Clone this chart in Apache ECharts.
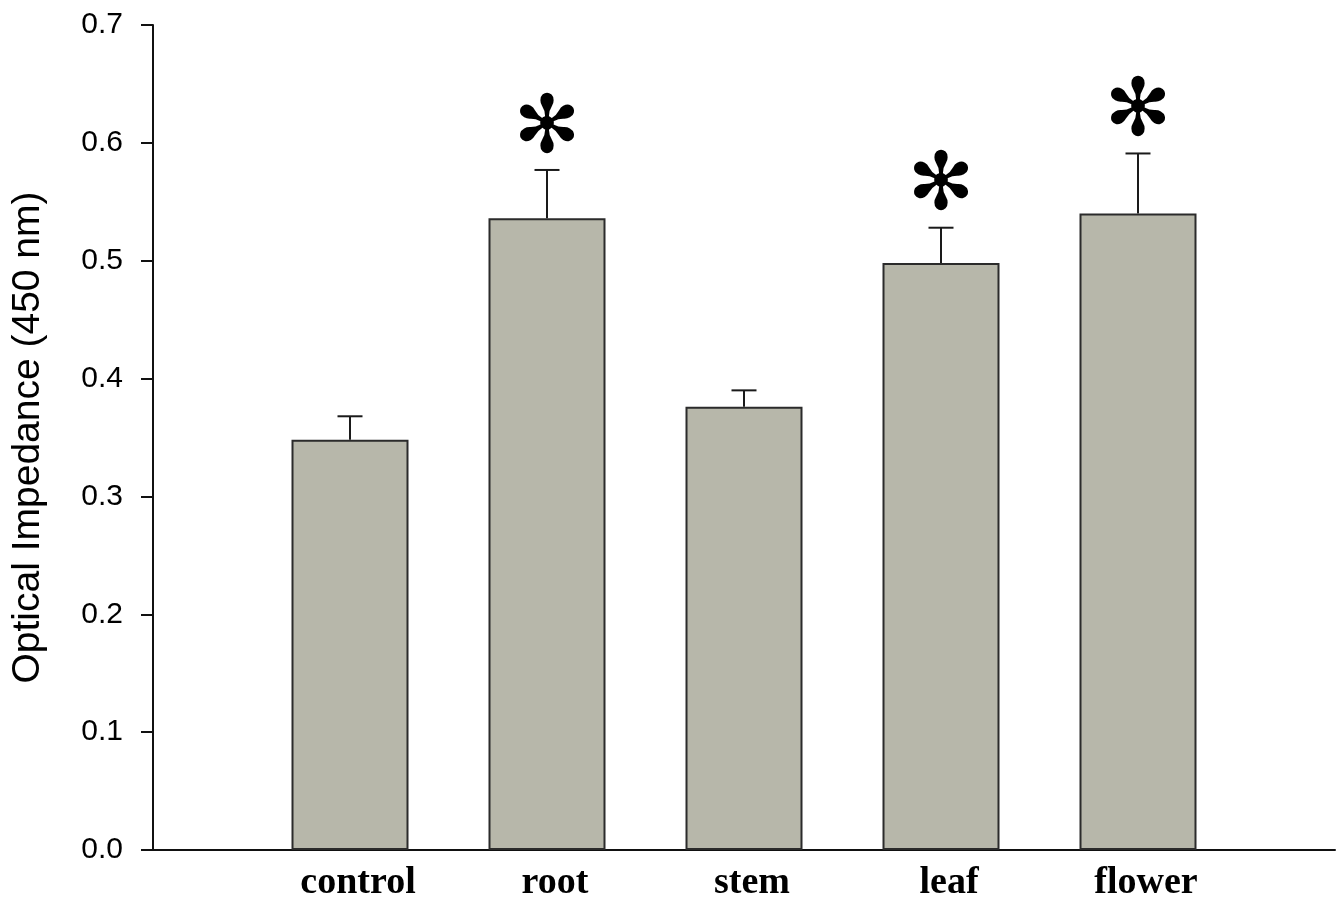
<!DOCTYPE html>
<html>
<head>
<meta charset="utf-8">
<style>
  html, body { margin: 0; padding: 0; background: #fff; }
  #chart { width: 1342px; height: 902px; }
</style>
<script src="https://cdn.jsdelivr.net/npm/echarts@6/dist/echarts.min.js"></script>
</head>
<body>
<div id="chart"></div>
<script>
// Tissue extracts vs. control, absorbance at 450 nm (mean ± SE)
const categories = ['control', 'root', 'stem', 'leaf', 'flower'];
const means = [0.348, 0.536, 0.376, 0.498, 0.540];
const errors = [0.020, 0.041, 0.014, 0.030, 0.051];
// significance markers (1 = significantly different from control)
const significant = [0, 1, 0, 1, 1];
const yTicks = [0, 0.1, 0.2, 0.3, 0.4, 0.5, 0.6, 0.7];

const chart = echarts.init(document.getElementById('chart'), null, { renderer: 'canvas' });

const barData = categories.map((c, i) => [i + 1, means[i]]);
const errData = categories.map((c, i) => [i + 1, means[i], errors[i], significant[i]]);

const option = {
  animation: false,
  backgroundColor: '#ffffff',
  grid: { left: 153, right: 7, top: 25, bottom: 49, containLabel: false },
  xAxis: {
    type: 'value',
    min: 0,
    max: 6,
    interval: 1,
    axisLine: { show: true, onZero: false, lineStyle: { color: '#111', width: 2 } },
    axisTick: { show: false },
    splitLine: { show: false },
    axisLabel: {
      margin: 14,
      padding: [0, 0, 0, 16],
      color: '#000',
      fontFamily: 'Liberation Serif',
      fontWeight: 'bold',
      fontSize: 38,
      formatter: v => categories[v - 1] || ''
    }
  },
  yAxis: {
    type: 'value',
    min: yTicks[0],
    max: yTicks[yTicks.length - 1],
    interval: 0.1,
    name: 'Optical Impedance (450 nm)',
    nameLocation: 'middle',
    nameGap: 105,
    nameTextStyle: { fontFamily: 'Liberation Sans', fontSize: 39, color: '#000' },
    axisLine: { show: true, lineStyle: { color: '#111', width: 2 } },
    axisTick: { show: true, inside: false, length: 12, lineStyle: { color: '#111', width: 2 } },
    splitLine: { show: false },
    axisLabel: {
      margin: 30,
      color: '#000',
      fontFamily: 'Liberation Sans',
      fontSize: 30,
      formatter: v => v.toFixed(1)
    }
  },
  series: [
    {
      type: 'bar',
      data: barData,
      barWidth: 117,
      itemStyle: { color: '#b7b7aa', borderColor: '#2b2b2b', borderWidth: 2 }
    },
    {
      type: 'custom',
      data: errData,
      z: 5,
      renderItem: function (params, api) {
        const x = api.value(0);
        const m = api.value(1);
        const e = api.value(2);
        const sig = api.value(3);
        const base = api.coord([x, m]);
        const top = api.coord([x, m + e]);
        const half = 12.5;
        const children = [
          { type: 'line', shape: { x1: base[0], y1: base[1], x2: top[0], y2: top[1] },
            style: { stroke: '#1a1a1a', lineWidth: 2 } },
          { type: 'line', shape: { x1: top[0] - half, y1: top[1], x2: top[0] + half, y2: top[1] },
            style: { stroke: '#1a1a1a', lineWidth: 2 } }
        ];
        if (sig) {
          children.push({
            type: 'text',
            style: {
              text: '\u273B',
              x: top[0],
              y: top[1] - 39,
              align: 'center',
              verticalAlign: 'middle',
              fontFamily: 'DejaVu Sans',
              fontSize: 80,
              fill: '#000'
            }
          });
        }
        return { type: 'group', children: children };
      }
    }
  ]
};

chart.setOption(option);
</script>
</body>
</html>
